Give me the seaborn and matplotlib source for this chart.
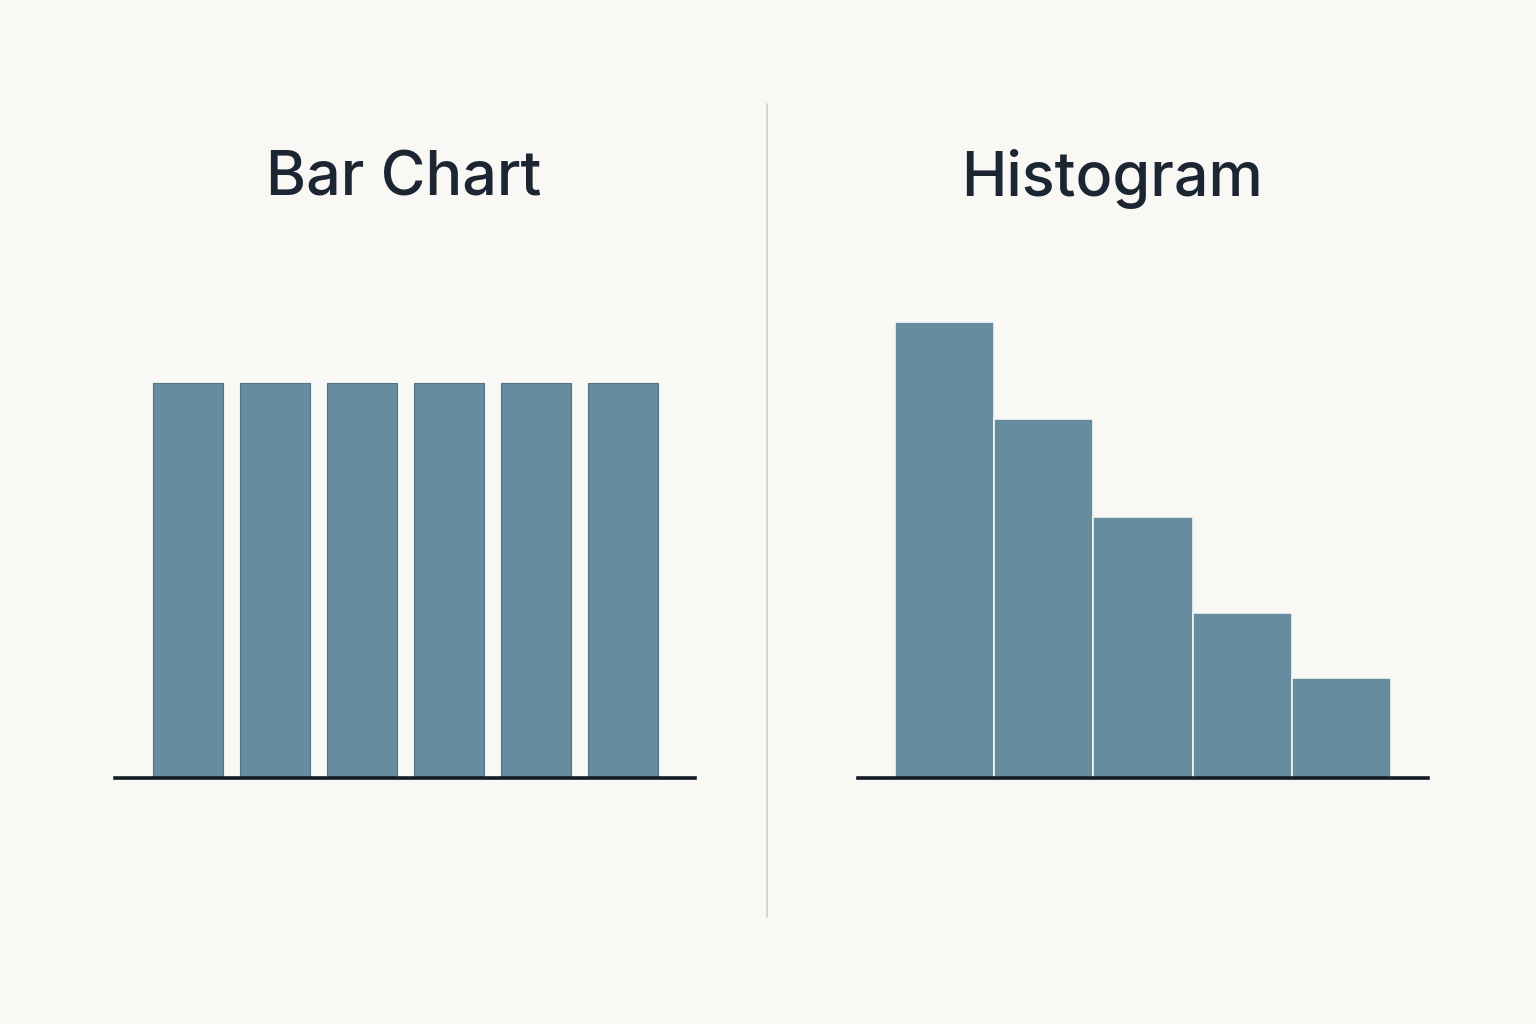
import matplotlib
matplotlib.use("Agg")
import matplotlib.pyplot as plt
import numpy as np
import pandas as pd
import seaborn as sns

# bar chart: six equal categories
bar_cats = ["A", "B", "C", "D", "E", "F"]
bar_vals = [40, 40, 40, 40, 40, 40]

# histogram: five adjacent bins
hist_edges = [0, 1, 2, 3, 4, 5]
hist_counts = [46.2, 36.4, 26.4, 16.7, 10.1]

bg = "#faf8f5"
bar_color = "#678ca0"
ink = "#1c2633"

sns.set_theme(style="white")
plt.rcParams["font.family"] = ["Inter", "DejaVu Sans"]

fig = plt.figure(figsize=(15.36, 10.24), dpi=100)
fig.patch.set_facecolor(bg)

W, H = 1536.0, 1024.0
px_per_unit = 395 / 40.0
top_px = 290
ymax = (778 - top_px) / px_per_unit

def add_ax(x0, x1):
    ax = fig.add_axes([x0 / W, (H - 778) / H, (x1 - x0) / W, (778 - top_px) / H])
    ax.set_facecolor("none")
    return ax

# left: bar chart
ax1 = add_ax(115, 695)
df_bar = pd.DataFrame({"cat": bar_cats, "val": bar_vals})
sns.barplot(data=df_bar, x="cat", y="val", color=bar_color, saturation=1,
            width=0.8, edgecolor="#4f7488", linewidth=0.8, ax=ax1)
ax1.set_xlim(-0.84, 5.83)
ax1.set_ylim(0, ymax)

# right: histogram
ax2 = add_ax(858, 1428)
centers = [(hist_edges[i] + hist_edges[i + 1]) / 2 for i in range(len(hist_counts))]
sns.histplot(x=centers, weights=hist_counts, bins=hist_edges, color=bar_color,
             alpha=1, edgecolor="#f4f6f7", linewidth=1.2, ax=ax2)
ax2.set_xlim(-0.373, 5.373)
ax2.set_ylim(0, ymax)

for ax in (ax1, ax2):
    ax.set_xlabel("")
    ax.set_ylabel("")
    ax.set_xticks([])
    ax.set_yticks([])
    for s in ("top", "left", "right"):
        ax.spines[s].set_visible(False)
    ax.spines["bottom"].set_color("#141c26")
    ax.spines["bottom"].set_linewidth(2.6)
    ax.spines["bottom"].set_zorder(5)

fig.text(404 / W, 1 - 196 / H, "Bar Chart", ha="center", va="baseline",
         fontsize=44, color=ink, fontweight="medium")
fig.text(1112 / W, 1 - 196 / H, "Histogram", ha="center", va="baseline",
         fontsize=44, color=ink, fontweight="medium")

# divider
fig.add_artist(plt.Line2D([767 / W, 767 / W], [1 - 104 / H, 1 - 917 / H],
                          color="#cfcdca", linewidth=1.2))

fig.savefig("out.png", dpi=100, facecolor=bg)
